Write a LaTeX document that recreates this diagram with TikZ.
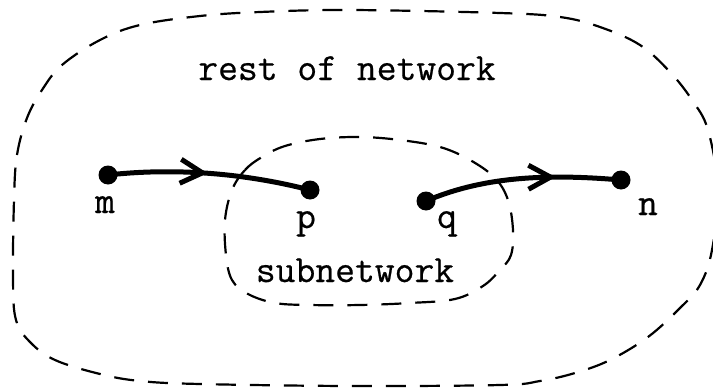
\documentclass[tikz,border=0pt]{standalone}
\usepackage{fontspec}
\newfontfamily\typew{Latin Modern Mono}[FakeBold=0.5]
\usetikzlibrary{decorations.markings,arrows.meta}
\begin{document}
\begin{tikzpicture}[x=1pt,y=-1pt,
  dot/.style={circle,fill=black,inner sep=0pt,minimum size=19pt},
  lbl/.style={font=\typew\fontsize{38.5}{38.5}\selectfont,inner sep=0pt,anchor=base},
  boundary/.style={dash pattern=on 20pt off 14pt,line width=2.2pt},
  flow/.style={line width=5pt,postaction={decorate},
    decoration={markings,mark=at position #1 with {\arrow{Straight Barb[length=22pt,width=24pt,line width=5pt]}}}}
]
\useasboundingbox (0,0) rectangle (713,391);
% outer boundary
\draw[boundary] plot[smooth cycle,tension=0.6] coordinates {
  (14,200) (17,155) (27,118) (42,90) (62,65) (100,40) (140,25) (200,16) (260,12)
  (350,10) (500,13) (560,17) (600,27) (640,45) (670,72) (692,100) (708,130)
  (718,190) (712,250) (700,285) (680,308) (648,337) (610,360) (575,373) (540,381)
  (500,385) (350,386) (200,384) (140,381) (100,374) (55,360) (30,342) (16,320) (13,280)};
% inner boundary
\draw[boundary] plot[smooth cycle,tension=0.6] coordinates {
  (232,190) (245,170) (262,157) (285,146) (320,139) (360,137) (400,140) (440,147)
  (470,160) (495,178) (508,200) (513,230) (511,255) (500,270) (483,286) (455,299)
  (410,303) (360,305) (310,305) (275,303) (248,294) (232,280) (226,255) (225,220)};
% nodes
\node[dot] (m) at (108,175) {};
\node[dot] (p) at (310,190) {};
\node[dot] (q) at (426,201) {};
\node[dot] (n) at (621,180) {};
\node[lbl] (lm) at (105,213) {m};
\node[lbl] (lp) at (306,228) {p};
\node[lbl] (lq) at (447,228) {q};
\node[lbl] (ln) at (648,215) {n};
\node[lbl] (rest) at (347,80) {rest of network};
\node[lbl] (sub) at (355,282) {subnetwork};
% connectors
\draw[flow=0.49] (m.center) .. controls (170,168) and (240,172) .. (p.center);
\draw[flow=0.67] (q.center) .. controls (480,178) and (540,173) .. (n.center);
\end{tikzpicture}
\end{document}
